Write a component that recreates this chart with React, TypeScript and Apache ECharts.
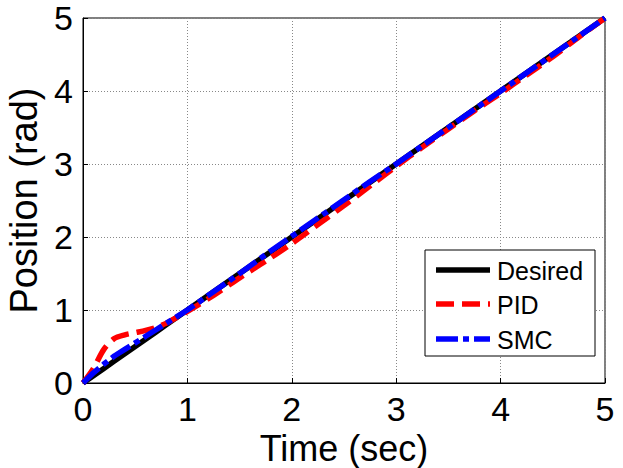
import React, { useEffect, useRef } from "react";
import * as echarts from "echarts";

const timeSec = [0, 0.1, 0.2, 0.3, 0.4, 0.5, 0.6, 0.7, 0.8, 0.9, 1.0, 1.25, 1.5, 1.75, 2.0, 2.25, 2.5, 2.75, 3.0, 3.25, 3.5, 3.75, 4.0, 4.25, 4.5, 4.75, 5.0];
const desired = [0, 0.1, 0.2, 0.3, 0.4, 0.5, 0.6, 0.7, 0.8, 0.9, 1.0, 1.25, 1.5, 1.75, 2.0, 2.25, 2.5, 2.75, 3.0, 3.25, 3.5, 3.75, 4.0, 4.25, 4.5, 4.75, 5.0];
const pid = [0, 0.2, 0.46, 0.61, 0.66, 0.69, 0.72, 0.76, 0.82, 0.9, 0.98, 1.2, 1.44, 1.67, 1.91, 2.17, 2.43, 2.7, 2.97, 3.23, 3.48, 3.73, 3.97, 4.22, 4.47, 4.74, 5.0];
const smc = [0, 0.14, 0.26, 0.37, 0.46, 0.55, 0.64, 0.73, 0.82, 0.91, 1.0, 1.25, 1.5, 1.76, 2.01, 2.26, 2.51, 2.76, 3.0, 3.25, 3.5, 3.75, 4.0, 4.25, 4.5, 4.75, 5.0];
const seriesNames = ["Desired", "PID", "SMC"];
const xTicks = [0, 1, 2, 3, 4, 5];
const yTicks = [0, 1, 2, 3, 4, 5];

const FONT = "Liberation Sans, Arial, sans-serif";

export default function App() {
  const ref = useRef<HTMLDivElement>(null);
  useEffect(() => {
    if (!ref.current) return;
    const chart = echarts.init(ref.current, null, { renderer: "svg" });
    const pair = (ys: number[]) => timeSec.map((t, i) => [t, ys[i]]);
    const legendX = 425, legendY = 250, legendW = 170, legendH = 106;
    const rowY = [270, 304, 339];
    const legendStyles = [
      { stroke: "#000000", lineWidth: 5.5, lineDash: null as any },
      { stroke: "#ff0000", lineWidth: 5.5, lineDash: [18, 8] },
      { stroke: "#0000ff", lineWidth: 5.5, lineDash: [22, 5, 6, 5] },
    ];
    const legendGraphics: any[] = [
      {
        type: "rect",
        shape: { x: legendX, y: legendY, width: legendW, height: legendH },
        style: { fill: "#fff", stroke: "#000", lineWidth: 1 },
        z: 100,
      },
    ];
    seriesNames.forEach((n, i) => {
      legendGraphics.push({
        type: "line",
        shape: { x1: 436, y1: rowY[i], x2: 490, y2: rowY[i] },
        style: { ...legendStyles[i], lineCap: "butt" },
        z: 101,
      });
      legendGraphics.push({
        type: "text",
        x: 497,
        y: rowY[i] + 1,
        style: { text: n, font: `25px ${FONT}`, fill: "#000", verticalAlign: "middle" },
        z: 101,
      });
    });
    chart.setOption({
      animation: false,
      backgroundColor: "#fff",
      grid: {
        left: 83, right: 18, top: 18, bottom: 85, containLabel: false, outerBoundsMode: "none",
        show: true, borderColor: "#000", borderWidth: 1, backgroundColor: "#fff",
      },
      xAxis: {
        type: "value",
        min: xTicks[0],
        max: xTicks[xTicks.length - 1],
        interval: 1,
        name: "Time (sec)",
        nameLocation: "middle",
        nameGap: 42,
        nameTextStyle: { fontFamily: FONT, fontSize: 36, color: "#000" },
        axisLine: { show: true, lineStyle: { color: "#000", width: 1 } },
        axisTick: { show: true, inside: true, length: 5, lineStyle: { color: "#000" } },
        axisLabel: { fontFamily: FONT, fontSize: 34, color: "#000", margin: 9 },
        splitLine: { show: true, lineStyle: { color: "#888", type: [1, 2], width: 1 } },
      },
      yAxis: {
        type: "value",
        min: yTicks[0],
        max: yTicks[yTicks.length - 1],
        interval: 1,
        name: "Position (rad)",
        nameLocation: "middle",
        nameGap: 40,
        nameTextStyle: { fontFamily: FONT, fontSize: 38, color: "#000" },
        axisLine: { show: true, lineStyle: { color: "#000", width: 1 } },
        axisTick: { show: true, inside: true, length: 5, lineStyle: { color: "#000" } },
        axisLabel: { fontFamily: FONT, fontSize: 34, color: "#000", margin: 10 },
        splitLine: { show: true, lineStyle: { color: "#888", type: [1, 2], width: 1 } },
      },
      series: [
        {
          name: seriesNames[0], type: "line", data: pair(desired), showSymbol: false,
          lineStyle: { color: "#000", width: 5.5, type: "solid" }, z: 2,
        },
        {
          name: seriesNames[1], type: "line", data: pair(pid), showSymbol: false, smooth: 0.3,
          lineStyle: { color: "#ff0000", width: 5.5, type: [18, 8] }, z: 3,
        },
        {
          name: seriesNames[2], type: "line", data: pair(smc), showSymbol: false,
          lineStyle: { color: "#0000ff", width: 5.5, type: [22, 5, 6, 5] }, z: 4,
        },
      ],
      graphic: legendGraphics,
    });
    return () => chart.dispose();
  }, []);
  return <div ref={ref} style={{ width: 623, height: 468, position: "absolute", left: 0, top: 0 }} />;
}
